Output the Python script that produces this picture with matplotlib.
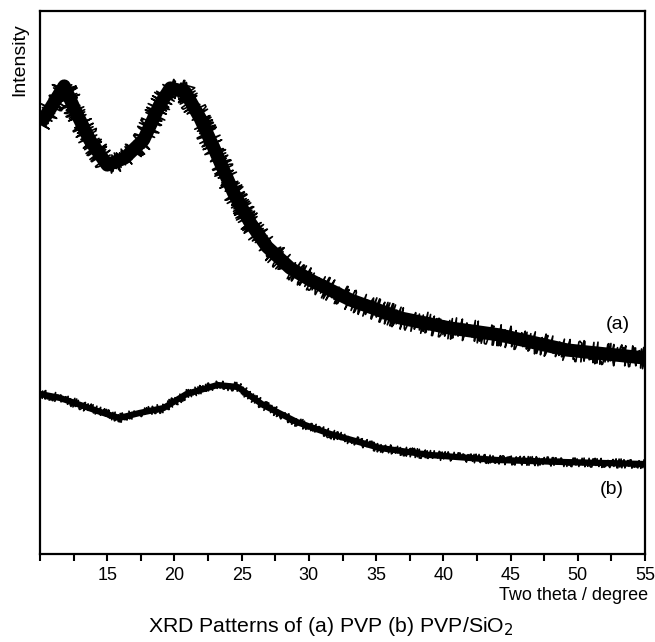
import matplotlib
matplotlib.use("Agg")
import matplotlib.pyplot as plt
from matplotlib.ticker import MultipleLocator

plt.rcParams['font.family'] = ['Liberation Sans', 'DejaVu Sans']

# Curve (a) PVP
theta_a = [10.0, 10.7, 11.8, 12.6, 13.7, 15.0, 16.3, 17.7, 18.9, 19.7, 20.8, 21.9,
           23.0, 24.4, 25.6, 26.9, 28.6, 30.1, 33.1, 36.8, 40.5, 44.2, 49.2, 55.0]
int_a = [430, 444, 468, 444, 414, 389, 396, 414, 449, 466, 462, 436,
         404, 361, 332, 307, 286, 274, 254, 236, 226, 219, 204, 196]

# Curve (b) PVP/SiO2
theta_b = [10.0, 11.5, 13.0, 14.5, 15.9, 17.4, 19.2, 20.9, 23.2, 24.7, 26.6, 29.1,
           31.6, 35.3, 39.0, 44.0, 48.9, 55.0]
int_b = [160, 156, 149, 142, 136, 141, 146, 160, 169, 167, 149, 132,
         120, 106, 99, 94, 92, 90]

xticks = [15, 20, 25, 30, 35, 40, 45, 50, 55]

fig = plt.figure(figsize=(6.55, 6.42), dpi=100)
ax = fig.add_axes([40/655, 88/642, 605/655, 543/642])

# thick base band + noisy overlay for each curve (sketch = rendering style only)
ax.plot(theta_a, int_a, color='black', lw=9.5, solid_joinstyle='round', solid_capstyle='butt')
la, = ax.plot(theta_a, int_a, color='black', lw=1.2)
la.set_sketch_params(scale=11, length=1.1, randomness=3)

ax.plot(theta_b, int_b, color='black', lw=4.5, solid_joinstyle='round', solid_capstyle='butt')
lb, = ax.plot(theta_b, int_b, color='black', lw=1.2)
lb.set_sketch_params(scale=4.5, length=1.2, randomness=3)

ax.set_xlim(10, 55)
ax.set_ylim(0, 543)
ax.set_xticks(xticks)
ax.xaxis.set_minor_locator(MultipleLocator(2.5))
ax.set_yticks([])
ax.tick_params(axis='x', which='both', direction='out', length=5, width=1.5,
               labelsize=13, pad=4)
for s in ax.spines.values():
    s.set_linewidth(1.6)

ax.text(0.955, 0.422, '(a)', transform=ax.transAxes, fontsize=14, ha='center', va='center')
ax.text(0.945, 0.118, '(b)', transform=ax.transAxes, fontsize=14, ha='center', va='center')

fig.text(648/655, 1 - 595/642, 'Two theta / degree', fontsize=13, ha='right', va='center')
fig.text(331/655, 1 - 627/642, 'XRD Patterns of (a) PVP (b) PVP/SiO$_2$', fontsize=15.3,
         ha='center', va='center')
fig.text(20/655, 1 - 60/642, 'Intensity', fontsize=14, rotation=90, ha='center', va='center')

fig.savefig('out.png', dpi=100)
